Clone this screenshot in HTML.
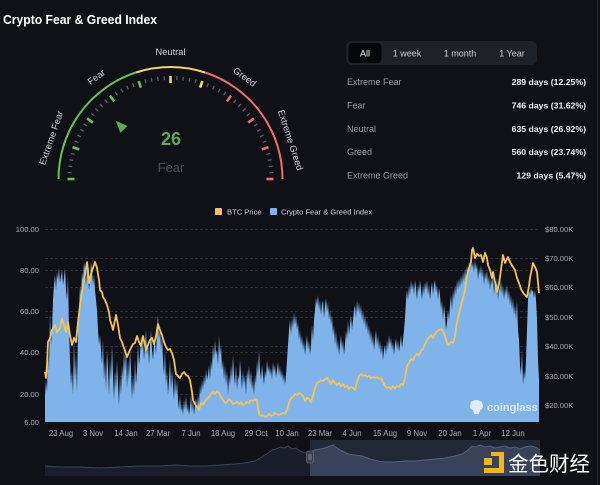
<!DOCTYPE html>
<html><head><meta charset="utf-8"><style>
html,body{margin:0;padding:0;background:#0f1116;}
svg{display:block;font-family:"Liberation Sans","Noto Sans CJK SC",sans-serif;}
</style></head><body>
<svg width="600" height="485" viewBox="0 0 600 485" xmlns="http://www.w3.org/2000/svg">
<rect width="600" height="485" fill="#0f1116"/>
<line x1="597.5" y1="0" x2="597.5" y2="485" stroke="#22252c" stroke-width="1"/>

<!-- Title -->
<text x="3" y="24" font-size="13" font-weight="bold" fill="#ffffff" textLength="154" lengthAdjust="spacingAndGlyphs">Crypto Fear &amp; Greed Index</text>

<!-- Gauge arcs -->
<g fill="none" stroke-width="2">
<path d="M58.5,179 A112,112 0 0 1 135.9,72.5" stroke="#6cbf5c"/>
<path d="M135.9,72.5 A112,112 0 0 1 205.1,72.5" stroke="#f2d46a"/>
<path d="M205.1,72.5 A112,112 0 0 1 282.5,179" stroke="#e8716f"/>
</g>
<!-- Minor ticks -->
<g stroke="#5a5e66" stroke-width="1.3">
<line x1="-103" y1="0" x2="-99" y2="0" transform="translate(170.5,179) rotate(3.6)"/>
<line x1="-103" y1="0" x2="-99" y2="0" transform="translate(170.5,179) rotate(7.2)"/>
<line x1="-103" y1="0" x2="-99" y2="0" transform="translate(170.5,179) rotate(10.8)"/>
<line x1="-103" y1="0" x2="-99" y2="0" transform="translate(170.5,179) rotate(14.4)"/>
<line x1="-103" y1="0" x2="-99" y2="0" transform="translate(170.5,179) rotate(21.6)"/>
<line x1="-103" y1="0" x2="-99" y2="0" transform="translate(170.5,179) rotate(25.2)"/>
<line x1="-103" y1="0" x2="-99" y2="0" transform="translate(170.5,179) rotate(28.8)"/>
<line x1="-103" y1="0" x2="-99" y2="0" transform="translate(170.5,179) rotate(32.4)"/>
<line x1="-103" y1="0" x2="-99" y2="0" transform="translate(170.5,179) rotate(39.6)"/>
<line x1="-103" y1="0" x2="-99" y2="0" transform="translate(170.5,179) rotate(43.2)"/>
<line x1="-103" y1="0" x2="-99" y2="0" transform="translate(170.5,179) rotate(46.8)"/>
<line x1="-103" y1="0" x2="-99" y2="0" transform="translate(170.5,179) rotate(50.4)"/>
<line x1="-103" y1="0" x2="-99" y2="0" transform="translate(170.5,179) rotate(57.6)"/>
<line x1="-103" y1="0" x2="-99" y2="0" transform="translate(170.5,179) rotate(61.2)"/>
<line x1="-103" y1="0" x2="-99" y2="0" transform="translate(170.5,179) rotate(64.8)"/>
<line x1="-103" y1="0" x2="-99" y2="0" transform="translate(170.5,179) rotate(68.4)"/>
<line x1="-103" y1="0" x2="-99" y2="0" transform="translate(170.5,179) rotate(75.6)"/>
<line x1="-103" y1="0" x2="-99" y2="0" transform="translate(170.5,179) rotate(79.2)"/>
<line x1="-103" y1="0" x2="-99" y2="0" transform="translate(170.5,179) rotate(82.8)"/>
<line x1="-103" y1="0" x2="-99" y2="0" transform="translate(170.5,179) rotate(86.4)"/>
<line x1="-103" y1="0" x2="-99" y2="0" transform="translate(170.5,179) rotate(93.6)"/>
<line x1="-103" y1="0" x2="-99" y2="0" transform="translate(170.5,179) rotate(97.2)"/>
<line x1="-103" y1="0" x2="-99" y2="0" transform="translate(170.5,179) rotate(100.8)"/>
<line x1="-103" y1="0" x2="-99" y2="0" transform="translate(170.5,179) rotate(104.4)"/>
<line x1="-103" y1="0" x2="-99" y2="0" transform="translate(170.5,179) rotate(111.6)"/>
<line x1="-103" y1="0" x2="-99" y2="0" transform="translate(170.5,179) rotate(115.2)"/>
<line x1="-103" y1="0" x2="-99" y2="0" transform="translate(170.5,179) rotate(118.8)"/>
<line x1="-103" y1="0" x2="-99" y2="0" transform="translate(170.5,179) rotate(122.4)"/>
<line x1="-103" y1="0" x2="-99" y2="0" transform="translate(170.5,179) rotate(129.6)"/>
<line x1="-103" y1="0" x2="-99" y2="0" transform="translate(170.5,179) rotate(133.2)"/>
<line x1="-103" y1="0" x2="-99" y2="0" transform="translate(170.5,179) rotate(136.8)"/>
<line x1="-103" y1="0" x2="-99" y2="0" transform="translate(170.5,179) rotate(140.4)"/>
<line x1="-103" y1="0" x2="-99" y2="0" transform="translate(170.5,179) rotate(147.6)"/>
<line x1="-103" y1="0" x2="-99" y2="0" transform="translate(170.5,179) rotate(151.2)"/>
<line x1="-103" y1="0" x2="-99" y2="0" transform="translate(170.5,179) rotate(154.8)"/>
<line x1="-103" y1="0" x2="-99" y2="0" transform="translate(170.5,179) rotate(158.4)"/>
<line x1="-103" y1="0" x2="-99" y2="0" transform="translate(170.5,179) rotate(165.6)"/>
<line x1="-103" y1="0" x2="-99" y2="0" transform="translate(170.5,179) rotate(169.2)"/>
<line x1="-103" y1="0" x2="-99" y2="0" transform="translate(170.5,179) rotate(172.8)"/>
<line x1="-103" y1="0" x2="-99" y2="0" transform="translate(170.5,179) rotate(176.4)"/>
</g>
<!-- Major ticks -->
<g stroke-width="2.6">
<line x1="-103" y1="0" x2="-96" y2="0" stroke="#6cbf5c" transform="translate(170.5,179) rotate(0)"/>
<line x1="-103" y1="0" x2="-96" y2="0" stroke="#6cbf5c" transform="translate(170.5,179) rotate(18)"/>
<line x1="-103" y1="0" x2="-96" y2="0" stroke="#6cbf5c" transform="translate(170.5,179) rotate(36)"/>
<line x1="-103" y1="0" x2="-96" y2="0" stroke="#6cbf5c" transform="translate(170.5,179) rotate(54)"/>
<line x1="-103" y1="0" x2="-96" y2="0" stroke="#6cbf5c" transform="translate(170.5,179) rotate(72)"/>
<line x1="-103" y1="0" x2="-96" y2="0" stroke="#f2d46a" transform="translate(170.5,179) rotate(90)"/>
<line x1="-103" y1="0" x2="-96" y2="0" stroke="#f2d46a" transform="translate(170.5,179) rotate(108)"/>
<line x1="-103" y1="0" x2="-96" y2="0" stroke="#e8716f" transform="translate(170.5,179) rotate(126)"/>
<line x1="-103" y1="0" x2="-96" y2="0" stroke="#e8716f" transform="translate(170.5,179) rotate(144)"/>
<line x1="-103" y1="0" x2="-96" y2="0" stroke="#e8716f" transform="translate(170.5,179) rotate(162)"/>
<line x1="-103" y1="0" x2="-96" y2="0" stroke="#e8716f" transform="translate(170.5,179) rotate(180)"/>
</g>
<!-- Gauge labels -->
<g font-size="9.3" fill="#d4d6da" text-anchor="middle">
<text x="0" y="-123" transform="translate(170.5,179) rotate(-71)">Extreme Fear</text>
<text x="0" y="-123" transform="translate(170.5,179) rotate(-36)">Fear</text>
<text x="0" y="-124" transform="translate(170.5,179)">Neutral</text>
<text x="0" y="-123" transform="translate(170.5,179) rotate(36)">Greed</text>
<text x="0" y="-123" transform="translate(170.5,179) rotate(72)">Extreme Greed</text>
</g>
<!-- Pointer -->
<polygon points="115.7,120.7 127.5,126.0 120.3,132.8" fill="#5fa85a"/>
<text x="171" y="145" font-size="18" font-weight="bold" fill="#5fa85a" text-anchor="middle">26</text>
<text x="171" y="172" font-size="13" fill="#4c5057" text-anchor="middle">Fear</text>

<!-- Tabs -->
<rect x="346" y="41" width="191" height="24" rx="6" fill="#1e2128"/>
<rect x="348.5" y="43" width="33" height="20" rx="4" fill="#06070a"/>
<g font-size="9" text-anchor="middle">
<text x="365" y="56.5" fill="#ffffff">All</text>
<text x="407" y="56.5" fill="#c9ccd2">1 week</text>
<text x="460" y="56.5" fill="#c9ccd2">1 month</text>
<text x="512" y="56.5" fill="#c9ccd2">1 Year</text>
</g>
<!-- Stats -->
<g font-size="9" fill="#9a9ea6">
<text x="347" y="85">Extreme Fear</text>
<text x="347" y="108.5">Fear</text>
<text x="347" y="132">Neutral</text>
<text x="347" y="155">Greed</text>
<text x="347" y="178.5">Extreme Greed</text>
</g>
<g font-size="8.7" font-weight="bold" fill="#f2f3f5" text-anchor="end">
<text x="586" y="85">289 days (12.25%)</text>
<text x="586" y="108.5">746 days (31.62%)</text>
<text x="586" y="132">635 days (26.92%)</text>
<text x="586" y="155">560 days (23.74%)</text>
<text x="586" y="178.5">129 days (5.47%)</text>
</g>

<!-- Legend -->
<rect x="215" y="208" width="7" height="7" rx="1" fill="#f2c45a"/>
<text x="227" y="214.5" font-size="7.6" fill="#d4d6da">BTC Price</text>
<rect x="270" y="208" width="7" height="7" rx="1" fill="#7fb3e9"/>
<text x="281" y="214.5" font-size="7.6" fill="#d4d6da">Crypto Fear &amp; Greed Index</text>

<!-- Gridlines -->
<g stroke="#363941" stroke-width="0.8" stroke-dasharray="3,2">
<line x1="45" y1="229.5" x2="539" y2="229.5"/>
<line x1="45" y1="258.5" x2="539" y2="258.5"/>
<line x1="45" y1="270.5" x2="539" y2="270.5"/>
<line x1="45" y1="287.5" x2="539" y2="287.5"/>
<line x1="45" y1="311.5" x2="539" y2="311.5"/>
<line x1="45" y1="317.5" x2="539" y2="317.5"/>
<line x1="45" y1="346.5" x2="539" y2="346.5"/>
<line x1="45" y1="352.5" x2="539" y2="352.5"/>
<line x1="45" y1="376.5" x2="539" y2="376.5"/>
<line x1="45" y1="394.5" x2="539" y2="394.5"/>
<line x1="45" y1="405.5" x2="539" y2="405.5"/>
</g>

<!-- Left axis -->
<g font-size="7.6" fill="#a9adb5" text-anchor="end">
<text x="39" y="232">100.00</text>
<text x="39" y="273">80.00</text>
<text x="39" y="314">60.00</text>
<text x="39" y="355">40.00</text>
<text x="39" y="397">20.00</text>
<text x="39" y="425">6.00</text>
</g>
<!-- Right axis -->
<g font-size="7.6" fill="#a9adb5">
<text x="545" y="232">$80.00K</text>
<text x="545" y="261">$70.00K</text>
<text x="545" y="290">$60.00K</text>
<text x="545" y="320">$50.00K</text>
<text x="545" y="349">$40.00K</text>
<text x="545" y="379">$30.00K</text>
<text x="545" y="408">$20.00K</text>
</g>

<!-- Fear & Greed area -->
<path fill="#7fb3e9" d="M45,422 L45,395 46,380 47,392 48,350 49,370 50,313 51,345 52,330 53,300 54,285 55,275 56,290 57,272 58,280 59,268 60,283 61,276 62,270 63,285 64,278 65,268 66,290 67,300 68,276 69,330 70,360 71,385 72,370 73,395 74,340 75,380 76,355 77,392 78,330 79,310 80,285 81,295 82,272 83,280 84,262 85,270 86,285 87,268 88,275 89,290 90,280 91,262 92,270 93,285 94,275 95,290 96,300 97,310 98,330 99,345 100,335 101,350 102,365 103,340 104,380 105,360 106,390 107,350 108,370 109,395 110,360 111,380 112,345 113,375 114,400 115,370 116,390 117,360 118,385 119,405 120,375 121,395 122,365 123,380 124,350 125,372 126,345 127,390 128,360 129,380 130,350 131,370 132,400 133,375 134,395 135,360 136,385 137,370 138,345 139,365 140,355 141,335 142,350 143,340 144,360 145,345 146,330 147,355 148,340 149,365 150,345 151,330 152,350 153,360 154,345 155,340 156,355 157,330 158,315 159,340 160,325 161,350 162,335 163,360 164,375 165,350 166,385 167,370 168,395 169,380 170,360 171,390 172,370 173,385 174,400 175,375 176,395 177,380 178,400 179,410 180,395 181,412 182,405 183,415 184,400 185,410 186,395 187,412 188,405 189,415 190,408 191,395 192,412 193,400 194,415 195,405 196,398 197,410 198,395 199,405 200,385 201,395 202,380 203,390 204,375 205,385 206,370 207,380 208,375 209,365 210,380 211,360 212,370 213,345 214,360 215,340 216,355 217,350 218,365 219,335 220,355 221,345 222,370 223,360 224,380 225,365 226,385 227,370 228,395 229,375 230,385 231,365 232,380 233,355 234,375 235,385 236,365 237,390 238,375 239,380 240,360 241,375 242,390 243,370 244,385 245,375 246,395 247,370 248,380 249,365 250,385 251,370 252,390 253,380 254,395 255,375 256,385 257,360 258,375 259,350 260,370 261,380 262,365 263,375 264,385 265,370 266,378 267,360 268,372 269,365 270,375 271,368 272,380 273,362 274,372 275,365 276,378 277,370 278,362 279,375 280,366 281,378 282,370 283,382 284,374 285,385 286,375 287,360 288,345 289,330 290,320 291,335 292,318 293,328 294,312 295,325 296,315 297,330 298,322 299,340 300,330 301,345 302,335 303,350 304,340 305,355 306,345 307,335 308,350 309,340 310,355 311,345 312,325 313,340 314,320 315,310 316,298 317,305 318,295 319,310 320,300 321,315 322,305 323,300 324,318 325,306 326,298 327,312 328,302 329,320 330,310 331,325 332,315 333,335 334,325 335,345 336,330 337,350 338,340 339,355 340,345 341,335 342,350 343,340 344,355 345,345 346,330 347,340 348,320 349,335 350,325 351,315 352,330 353,320 354,310 355,305 356,318 357,300 358,312 359,302 360,315 361,305 362,320 363,310 364,325 365,315 366,330 367,320 368,335 369,325 370,340 371,330 372,345 373,335 374,350 375,340 376,330 377,345 378,335 379,350 380,340 381,355 382,345 383,360 384,350 385,345 386,355 387,340 388,350 389,335 390,345 391,338 392,350 393,342 394,355 395,345 396,338 397,350 398,340 399,352 400,345 401,335 402,348 403,340 404,330 405,318 406,300 407,290 408,300 409,285 410,295 411,280 412,290 413,283 414,295 415,280 416,288 417,300 418,285 419,292 420,280 421,290 422,300 423,285 424,295 425,282 426,290 427,280 428,295 429,285 430,300 431,290 432,282 433,295 434,285 435,280 436,292 437,285 438,300 439,288 440,295 441,310 442,300 443,320 444,305 445,315 446,330 447,322 448,310 449,320 450,305 451,295 452,310 453,290 454,300 455,285 456,295 457,280 458,290 459,278 460,288 461,275 462,285 463,272 464,282 465,268 466,278 467,265 468,275 469,262 470,270 471,258 472,268 473,262 474,272 475,260 476,270 477,264 478,280 479,268 480,275 481,265 482,278 483,268 484,285 485,272 486,280 487,270 488,285 489,275 490,290 491,278 492,285 493,275 494,295 495,280 496,290 497,278 498,300 499,285 500,292 501,280 502,295 503,285 504,300 505,288 506,295 507,285 508,300 509,290 510,305 511,295 512,310 513,298 514,315 515,305 516,320 517,300 518,330 519,340 520,365 521,375 522,350 523,385 524,370 525,380 526,360 527,330 528,300 529,290 530,295 531,288 532,292 533,290 534,298 535,290 536,300 537,320 538,360 539,380 539,422 Z"/>

<!-- BTC line -->
<polyline fill="none" stroke="#f2c45a" stroke-width="1.8" stroke-linejoin="round" points="45,372 46,378 47,365 48,342 50,338 52,330 55,325 57,332 60,328 62,318 64,325 66,332 68,322 70,335 72,345 74,338 76,342 78,322 80,305 82,292 84,280 85,275 87,262 88,270 89,283 91,274 93,268 95,262 97,268 99,280 100,290 102,292 103,297 105,300 107,305 109,312 110,320 112,326 113,330 115,320 116,315 118,325 120,338 122,342 124,348 127,357 129,352 131,348 133,344 135,343 137,336 139,342 141,346 143,336 145,345 146,350 148,345 150,340 152,338 154,344 156,336 158,324 160,330 162,335 164,342 166,347 168,350 170,349 172,353 174,360 176,374 178,376 180,378 182,374 184,372 186,375 188,376 190,380 192,392 193,400 195,404 197,407 199,410 201,403 203,405 205,401 207,399 209,397 211,394 213,392 215,394 217,391 219,393 221,397 223,400 225,403 227,402 229,399 231,401 233,404 235,403 237,402 239,404 241,402 243,405 245,404 247,402 249,403 251,400 253,401 255,399 257,401 259,414 261,416 263,415 265,417 267,416 269,414 271,416 273,415 275,413 277,414 279,415 281,414 283,413 285,414 287,410 289,403 291,398 293,397 295,394 297,395 299,393 301,394 303,396 305,401 307,398 309,399 311,402 313,396 315,388 317,383 319,382 321,380 323,381 325,379 327,378 329,381 331,384 333,380 335,383 337,385 339,383 341,386 343,384 345,387 347,386 349,389 351,387 353,388 355,390 357,382 359,376 361,374 363,376 365,375 367,377 369,376 371,378 373,377 375,378 377,377 379,379 381,378 383,382 385,386 387,388 389,387 391,389 393,386 395,388 397,386 399,387 401,384 403,385 405,378 407,366 409,363 411,359 413,360 415,356 417,354 419,355 421,351 423,349 425,344 427,340 429,338 431,335 433,338 435,334 437,331 439,330 441,329 443,331 445,336 447,343 449,345 451,342 453,343 455,336 457,322 459,314 461,305 463,298 465,290 467,276 469,268 471,262 472,250 473,248 475,258 477,254 479,256 481,255 483,262 485,253 487,258 488,265 490,270 492,278 493,272 495,282 497,292 499,284 500,277 502,262 503,255 505,263 507,259 508,257 510,262 513,267 515,270 517,278 519,283 521,289 522,291 524,294 526,296 527,297 529,286 530,278 532,268 533,263 535,267 537,272 539,293"/>

<!-- coinglass watermark -->
<g fill="#eef3fb" opacity="0.88">
<path d="M471,402 Q476,398 482,402 L483,406 Q483,409 480,410 L479,414 L474,414 L473,410 Q470,409 470,406 Z"/>
<text x="487" y="411" font-size="11" font-weight="bold">coinglass</text>
</g>

<!-- X axis labels -->
<g font-size="7.8" fill="#a9adb5" text-anchor="middle">
<text x="61" y="436">23 Aug</text>
<text x="93" y="436">3 Nov</text>
<text x="126" y="436">14 Jan</text>
<text x="158" y="436">27 Mar</text>
<text x="191" y="436">7 Jun</text>
<text x="223" y="436">18 Aug</text>
<text x="256" y="436">29 Oct</text>
<text x="287" y="436">10 Jan</text>
<text x="320" y="436">23 Mar</text>
<text x="352" y="436">4 Jun</text>
<text x="385" y="436">15 Aug</text>
<text x="417" y="436">9 Nov</text>
<text x="450" y="436">20 Jan</text>
<text x="482" y="436">1 Apr</text>
<text x="513" y="436">12 Jun</text>
</g>

<!-- Navigator -->
<rect x="310" y="440" width="230" height="36" fill="#232837"/>
<path fill="#1a1e2b" d="M45,476 L45,466 60,467 80,467 100,468 120,467 140,466 160,466 175,465 190,466 205,466 220,465 235,464 245,463 255,461 262,457 268,453 272,450 276,449 280,447 284,448 288,446 292,449 296,448 300,451 305,453 310,452 310,476 Z"/>
<polyline fill="none" stroke="#3a4460" stroke-width="1" points="45,466 60,467 80,467 100,468 120,467 140,466 160,466 175,465 190,466 205,466 220,465 235,464 245,463 255,461 262,457 268,453 272,450 276,449 280,447 284,448 288,446 292,449 296,448 300,451 305,453 310,452"/>
<path fill="#3a4259" d="M310,476 L310,452 315,450 320,449 325,448 330,446 333,445 337,448 342,451 348,454 355,455 362,456 370,459 378,461 385,462 395,462 405,461 415,461 425,460 435,459 445,458 455,456 462,454 468,450 472,446 476,447 480,445 485,447 490,446 495,448 500,447 505,446 510,448 515,447 520,449 525,447 530,446 535,447 540,450 540,476 Z"/>
<polyline fill="none" stroke="#56617f" stroke-width="1" points="310,452 315,450 320,449 325,448 330,446 333,445 337,448 342,451 348,454 355,455 362,456 370,459 378,461 385,462 395,462 405,461 415,461 425,460 435,459 445,458 455,456 462,454 468,450 472,446 476,447 480,445 485,447 490,446 495,448 500,447 505,446 510,448 515,447 520,449 525,447 530,446 535,447 540,450"/>
<rect x="306.5" y="451" width="7" height="12" rx="2" fill="#3c414e" stroke="#5d6270" stroke-width="0.8"/>
<line x1="309" y1="454" x2="309" y2="460" stroke="#9aa0aa" stroke-width="0.7"/>
<line x1="311" y1="454" x2="311" y2="460" stroke="#9aa0aa" stroke-width="0.7"/>

<!-- 金色财经 logo -->
<g fill="#f0b90b">
<rect x="491" y="452" width="12" height="4"/>
<rect x="499" y="452" width="5" height="21"/>
<rect x="484" y="468" width="20" height="5"/>
<rect x="484" y="458" width="8" height="7"/>
</g>
<text x="508" y="471" font-size="20.5" fill="#ffffff" font-family="'Noto Sans CJK SC','WenQuanYi Zen Hei',sans-serif">金色财经</text>
</svg>
</body></html>
